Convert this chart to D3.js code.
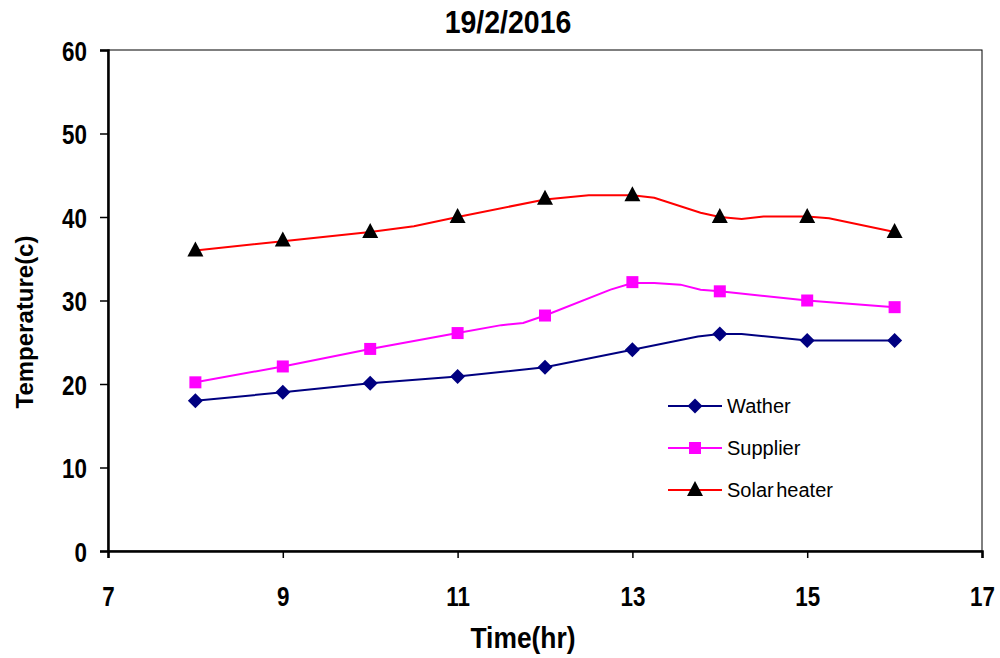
<!DOCTYPE html>
<html><head><meta charset="utf-8">
<script src="https://cdn.jsdelivr.net/npm/d3@7"></script>
<style>body{margin:0;background:#fff}svg{display:block}</style>
</head><body>
<svg id="c" width="1000" height="658"></svg>
<script>
// ---- data ----
const hours = [8, 9, 10, 11, 12, 13, 14, 15, 16];
const watherValues = [18, 19, 20.1, 20.9, 22, 24.1, 26, 25.2, 25.2];
const supplierValues = [20.2, 22.1, 24.2, 26.1, 28.2, 32.2, 31.1, 30, 29.2];
const solarValues = [36, 37.2, 38.2, 40, 42.2, 42.6, 40, 40, 38.2];
// traced line paths (the drawn curves pass through extra unmarked points)
const watherLineX = [8, 9, 10, 11, 12, 13, 13.75, 14, 14.25, 15, 16];
const watherLineY = [18, 19, 20.1, 20.9, 22, 24.1, 25.7, 26, 26, 25.2, 25.2];
const supplierLineX = [8, 9, 10, 11, 11.5, 11.75, 12, 12.75, 13, 13.25, 13.55, 13.78, 14, 15, 16];
const supplierLineY = [20.2, 22.1, 24.2, 26.1, 27.05, 27.3, 28.2, 31.3, 32.1, 32.1, 31.9, 31.3, 31.1, 30, 29.2];
const solarLineX = [8, 9, 10, 10.5, 11, 12, 12.5, 13, 13.25, 13.78, 14, 14.25, 14.5, 15, 15.25, 16];
const solarLineY = [36, 37.1, 38.2, 38.9, 40, 42.1, 42.6, 42.6, 42.3, 40.5, 40, 39.75, 40.05, 40.05, 39.85, 38.2];
const xTicks = [7, 9, 11, 13, 15, 17];
const yTicks = [0, 10, 20, 30, 40, 50, 60];
const seriesNames = ["Wather", "Supplier", "Solar heater"];
const title = "19/2/2016";

// ---- layout ----
const svg = d3.select("#c");
const L = 108, R = 982, T = 50, B = 551;
const x = d3.scaleLinear().domain([7, 17]).range([L, R]);
const y = d3.scaleLinear().domain([0, 60]).range([B, T]);
const font = "'Liberation Sans', Arial, sans-serif";

function condensed(px, py, txt, size, sx, anchor) {
  svg.append("text").attr("transform", `translate(${px},${py}) scale(${sx},1)`)
    .attr("text-anchor", anchor || "middle")
    .style("font-family", font).style("font-weight", "bold").style("font-size", size + "px")
    .attr("fill", "#000").text(txt);
}

condensed(508, 33, title, 32, 0.89);

// frame
svg.append("rect").attr("x", L).attr("y", T).attr("width", R - L).attr("height", B - T)
  .attr("fill", "none").attr("stroke", "#000").attr("stroke-width", 1);

const TS = 0.8;
const xAxis = svg.append("g").attr("transform", `translate(0,${B})`)
  .call(d3.axisBottom(x).tickValues(xTicks).tickSize(7).tickPadding(28).tickFormat(d3.format("d")));
const yAxis = svg.append("g").attr("transform", `translate(${L},0)`)
  .call(d3.axisLeft(y).tickValues(yTicks).tickSize(8).tickPadding(13).tickFormat(d3.format("d")));
[xAxis, yAxis].forEach(g => {
  g.select(".domain").attr("stroke", "#000").attr("stroke-width", 2.5);
  g.selectAll(".tick line").attr("stroke", "#000").attr("stroke-width", 1.5);
  g.selectAll(".tick text").style("font-family", font).style("font-weight", "bold")
    .style("font-size", "28px").attr("fill", "#000").attr("transform", `scale(${TS},1)`);
});
xAxis.selectAll(".tick text").attr("dy", "0.71em");
yAxis.selectAll(".tick text").attr("dy", "0.36em").attr("x", -21 / TS);

condensed(523, 648, "Time(hr)", 29, 0.91);
svg.append("text").attr("transform", "translate(33,322) rotate(-90)").attr("text-anchor", "middle")
  .style("font-family", font).style("font-weight", "bold").style("font-size", "24px").text("Temperature(c)");

// ---- series ----
const line = d3.line().x(d => x(d[0])).y(d => y(d[1]));
const series = [
  {name: seriesNames[0], lx: watherLineX, ly: watherLineY, vals: watherValues, color: "#000080", marker: "diamond", fill: "#000080"},
  {name: seriesNames[1], lx: supplierLineX, ly: supplierLineY, vals: supplierValues, color: "#FF00FF", marker: "square", fill: "#FF00FF"},
  {name: seriesNames[2], lx: solarLineX, ly: solarLineY, vals: solarValues, color: "#FF0000", marker: "triangle", fill: "#000"}
];
function drawMarker(g, type, cx, cy, fill) {
  if (type === "diamond") {
    g.append("path").attr("d", `M${cx},${cy-7.5}L${cx+7.5},${cy}L${cx},${cy+7.5}L${cx-7.5},${cy}Z`).attr("fill", fill);
  } else if (type === "square") {
    g.append("rect").attr("x", cx-6).attr("y", cy-6).attr("width", 12).attr("height", 12).attr("fill", fill);
  } else {
    g.append("path").attr("d", `M${cx},${cy-9}L${cx+8},${cy+6}L${cx-8},${cy+6}Z`).attr("fill", fill);
  }
}
series.forEach(s => {
  const pts = s.lx.map((v, i) => [v, s.ly[i]]);
  svg.append("path").attr("d", line(pts)).attr("fill", "none").attr("stroke", s.color).attr("stroke-width", 2);
  const g = svg.append("g");
  hours.forEach((h, i) => drawMarker(g, s.marker, x(h), y(s.vals[i]), s.fill));
});

// ---- legend ----
const legY = [406, 448, 490];
series.forEach((s, i) => {
  const g = svg.append("g");
  g.append("line").attr("x1", 668).attr("x2", 722).attr("y1", legY[i]).attr("y2", legY[i])
    .attr("stroke", s.color).attr("stroke-width", 2);
  drawMarker(g, s.marker, 695, legY[i], s.fill);
  g.append("text").attr("x", 727).attr("y", legY[i] + 7).style("font-family", font)
    .style("font-size", "20px").style("word-spacing", "-3px").attr("fill", "#000").text(s.name);
});
</script>
</body></html>
